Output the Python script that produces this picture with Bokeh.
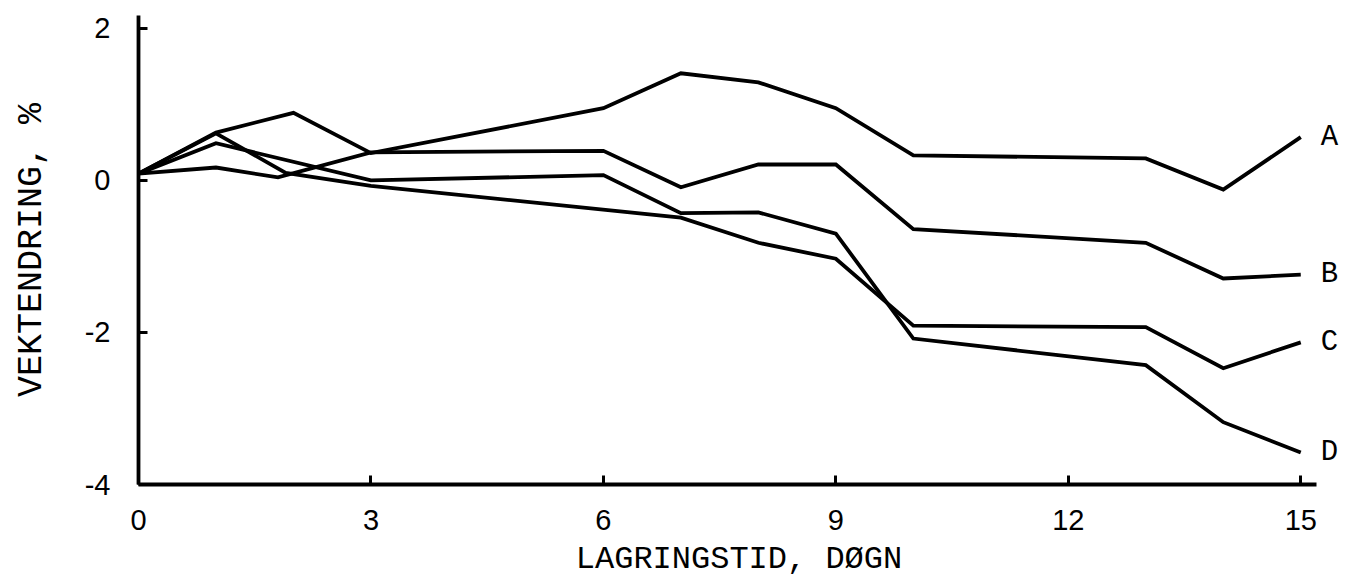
from bokeh.plotting import figure
from bokeh.models import Range1d, FixedTicker, ColumnDataSource
from bokeh.core.properties import value
from bokeh.embed import file_html
from bokeh.resources import INLINE

# Data: storage time in days vs weight change in %
A_days = [0, 1, 2, 3, 6, 7, 8, 9, 10, 13, 14, 15]
A_vals = [0.09, 0.63, 0.89, 0.36, 0.95, 1.41, 1.29, 0.95, 0.33, 0.29, -0.12, 0.57]
B_days = [0, 1, 1.8, 3, 6, 7, 8, 9, 10, 13, 14, 15]
B_vals = [0.09, 0.17, 0.04, 0.37, 0.39, -0.09, 0.21, 0.21, -0.64, -0.82, -1.29, -1.24]
C_days = [0, 1, 1.9, 3, 7, 8, 9, 10, 13, 14, 15]
C_vals = [0.09, 0.62, 0.10, -0.07, -0.49, -0.82, -1.03, -1.91, -1.93, -2.47, -2.13]
D_days = [0, 1, 3, 6, 7, 8, 9, 10, 13, 14, 15]
D_vals = [0.09, 0.49, 0.0, 0.07, -0.43, -0.42, -0.70, -2.08, -2.43, -3.18, -3.58]

series_names = ["A", "B", "C", "D"]
x_ticks = [0, 3, 6, 9, 12, 15]
y_ticks = [-4, -2, 0, 2]
x_title = "LAGRINGSTID, DØGN"
y_title = "VEKTENDRING, %"

p = figure(width=1339, height=580, output_backend="svg", toolbar_location=None,
           x_range=Range1d(0, 15.5), y_range=Range1d(-4, 2.17),
           min_border_left=138, min_border_right=0, min_border_top=15,
           min_border_bottom=96)
p.outline_line_color = None
p.xgrid.visible = False
p.ygrid.visible = False
p.background_fill_color = "white"

all_days = [A_days, B_days, C_days, D_days]
all_vals = [A_vals, B_vals, C_vals, D_vals]
for days, vals in zip(all_days, all_vals):
    p.line(days, vals, line_color="black", line_width=3.8, line_join="miter")

lab_src = ColumnDataSource(dict(x=[d[-1] for d in all_days],
                                y=[v[-1] for v in all_vals],
                                t=series_names))
p.text(x="x", y="y", text="t", source=lab_src, x_offset=20, y_offset=0,
       text_font=value("Liberation Mono"), text_font_size="29px",
       text_baseline="middle", text_align="left", text_color="black")

for ax in (p.xaxis[0], p.yaxis[0]):
    ax.axis_line_width = 3.8
    ax.axis_line_color = "black"
    ax.major_tick_line_width = 3
    ax.major_tick_line_color = "black"
    ax.major_tick_in = 9
    ax.major_tick_out = 0
    ax.minor_tick_line_color = None
    ax.major_label_text_font = "Liberation Sans"
    ax.major_label_text_font_size = "29px"
    ax.major_label_text_color = "black"
    ax.axis_label_text_font = "Liberation Mono"
    ax.axis_label_text_font_style = "normal"
    ax.axis_label_text_color = "black"

p.xaxis.bounds = (0, 15.2)
p.xaxis.ticker = FixedTicker(ticks=x_ticks)
p.yaxis.ticker = FixedTicker(ticks=y_ticks)
p.xaxis.major_label_overrides = {t: str(t) for t in x_ticks}
p.yaxis.major_label_overrides = {t: str(t) for t in y_ticks}
p.xaxis.axis_label = x_title
p.yaxis.axis_label = y_title
p.xaxis.axis_label_text_font_size = "32px"
p.yaxis.axis_label_text_font_size = "35px"
p.xaxis.major_label_standoff = 25
p.yaxis.major_label_standoff = 28
p.xaxis.axis_label_standoff = 8
p.yaxis.axis_label_standoff = 30

open("out.html", "w").write(file_html(p, INLINE))
